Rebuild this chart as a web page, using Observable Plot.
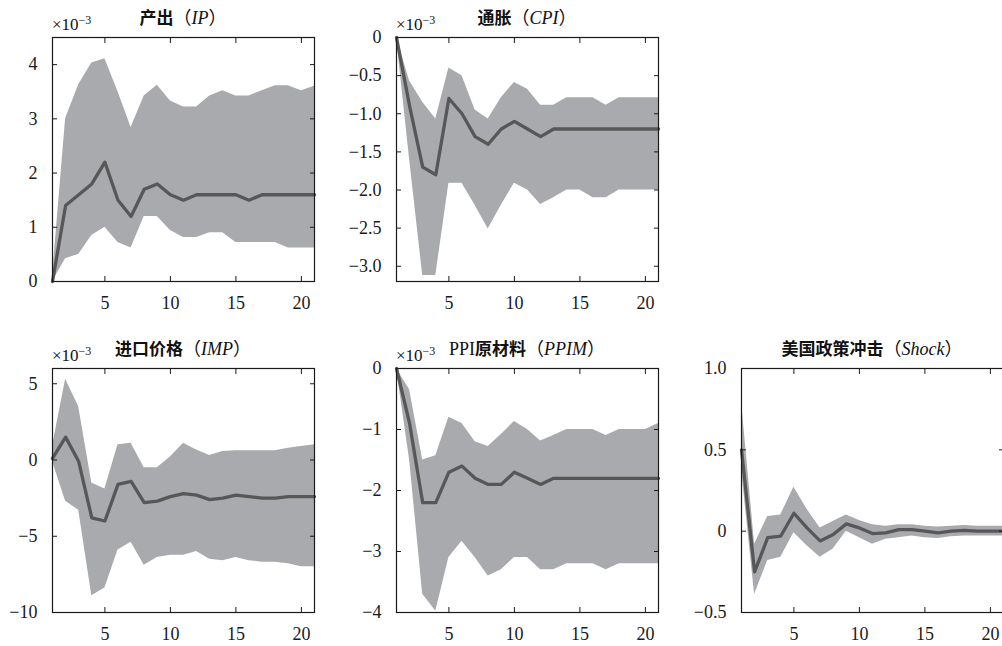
<!DOCTYPE html>
<html>
<head>
<meta charset="utf-8">
<script src="https://cdn.jsdelivr.net/npm/d3@7"></script>
<script src="https://cdn.jsdelivr.net/npm/@observablehq/plot@0.6"></script>
<style>
  html, body { margin: 0; padding: 0; background: #fff; }
  #wrap { position: relative; width: 1002px; height: 646px; overflow: hidden; background: #fff; }
  .panel { position: absolute; }
  .title { position: absolute; text-align: center; height: 24px; line-height: 24px; font-size: 18px;
           font-family: "Liberation Serif", "Noto Sans CJK SC", serif; color: #111; white-space: nowrap; }
  .title b { font-family: "Noto Sans CJK SC", sans-serif; font-weight: 700; font-size: 17px; }
  .title i { font-style: italic; }
  .scale { position: absolute; font-family: "Liberation Serif", serif; font-size: 17px; line-height: 17px; color: #111; }
  .scale sup { font-size: 12px; vertical-align: 6px; line-height: 0; }
</style>
</head>
<body>
<div id="wrap"></div>
<script>
// ---- data ----
const periods = [1,2,3,4,5,6,7,8,9,10,11,12,13,14,15,16,17,18,19,20,21];
const xTicks = [5, 10, 15, 20];

// 产出 (IP), ×10^-3
const ipMed = [0, 1.4, 1.6, 1.8, 2.2, 1.5, 1.2, 1.7, 1.8, 1.6, 1.5, 1.6, 1.6, 1.6, 1.6, 1.5, 1.6, 1.6, 1.6, 1.6, 1.6];
const ipHi  = [0.1, 3.0, 3.63, 4.03, 4.11, 3.5, 2.84, 3.42, 3.62, 3.33, 3.22, 3.22, 3.42, 3.52, 3.42, 3.42, 3.52, 3.61, 3.61, 3.52, 3.6];
const ipLo  = [0, 0.42, 0.5, 0.85, 1.0, 0.72, 0.62, 1.2, 1.2, 0.94, 0.81, 0.81, 0.9, 0.9, 0.72, 0.72, 0.72, 0.72, 0.62, 0.62, 0.62];
const ipTicks = [0, 1, 2, 3, 4];

// 通胀 (CPI), ×10^-3
const cpiMed = [0, -0.9, -1.7, -1.8, -0.8, -1.0, -1.3, -1.4, -1.2, -1.1, -1.2, -1.3, -1.2, -1.2, -1.2, -1.2, -1.2, -1.2, -1.2, -1.2, -1.2];
const cpiHi  = [0, -0.57, -0.85, -1.07, -0.4, -0.5, -0.95, -1.07, -0.79, -0.59, -0.68, -0.89, -0.89, -0.79, -0.79, -0.79, -0.89, -0.79, -0.79, -0.79, -0.79];
const cpiLo  = [0, -1.6, -3.12, -3.12, -1.91, -1.91, -2.2, -2.51, -2.2, -1.91, -2.0, -2.19, -2.1, -2.0, -2.0, -2.1, -2.1, -2.0, -2.0, -2.0, -2.0];
const cpiTicks = [0, -0.5, -1.0, -1.5, -2.0, -2.5, -3.0];

// 进口价格 (IMP), ×10^-3
const impMed = [0.1, 1.5, -0.1, -3.8, -4.0, -1.6, -1.4, -2.8, -2.7, -2.4, -2.2, -2.3, -2.6, -2.5, -2.3, -2.4, -2.5, -2.5, -2.4, -2.4, -2.4];
const impHi  = [0.9, 5.3, 3.5, -1.5, -1.9, 1.0, 1.1, -0.5, -0.5, 0.2, 1.1, 0.66, 0.3, 0.55, 0.6, 0.6, 0.6, 0.6, 0.77, 0.88, 1.0];
const impLo  = [-0.1, -2.7, -3.3, -8.9, -8.4, -5.9, -5.4, -6.9, -6.4, -6.25, -6.25, -6.0, -6.5, -6.6, -6.4, -6.6, -6.7, -6.7, -6.8, -7.0, -7.0];
const impTicks = [5, 0, -5, -10];

// PPI原材料 (PPIM), ×10^-3
const ppimMed = [0, -0.9, -2.2, -2.2, -1.7, -1.6, -1.8, -1.9, -1.9, -1.7, -1.8, -1.9, -1.8, -1.8, -1.8, -1.8, -1.8, -1.8, -1.8, -1.8, -1.8];
const ppimHi  = [0, -0.35, -1.5, -1.43, -0.8, -0.9, -1.2, -1.28, -1.08, -0.87, -1.0, -1.19, -1.1, -1.0, -1.0, -1.0, -1.1, -1.0, -1.0, -1.0, -0.9];
const ppimLo  = [0, -1.5, -3.7, -3.98, -3.1, -2.83, -3.1, -3.4, -3.3, -3.1, -3.1, -3.3, -3.3, -3.2, -3.2, -3.2, -3.3, -3.2, -3.2, -3.2, -3.2];
const ppimTicks = [0, -1, -2, -3, -4];

// 美国政策冲击 (Shock)
const shockMed = [0.5, -0.25, -0.04, -0.03, 0.11, 0.02, -0.06, -0.02, 0.045, 0.02, -0.015, -0.01, 0.01, 0.01, 0, -0.01, 0, 0.005, 0, 0, 0];
const shockHi  = [0.8, -0.08, 0.09, 0.1, 0.27, 0.135, 0.02, 0.06, 0.1, 0.065, 0.04, 0.03, 0.04, 0.04, 0.03, 0.025, 0.03, 0.035, 0.03, 0.03, 0.03];
const shockLo  = [0.38, -0.39, -0.18, -0.16, -0.01, -0.09, -0.16, -0.11, 0.0, -0.04, -0.08, -0.05, -0.04, -0.03, -0.04, -0.045, -0.035, -0.03, -0.03, -0.03, -0.03];
const shockTicks = [1.0, 0.5, 0, -0.5];

// ---- drawing ----
const BAND = "#a9aaad";
const LINE = "#575758";
const minus = s => s.replace("-", "\u2212");
const fmtInt = d => minus(String(d));
const fmtOne = d => d === 0 ? "0" : minus(d.toFixed(1));

const panels = [
  {left: 0,   top: 27,  ydom: [0, 4.5],   ticks: ipTicks,    fmt: fmtInt, med: ipMed,    hi: ipHi,    lo: ipLo,
   title: '<b>产出</b>（<i>IP</i>）', scale: true},
  {left: 344, top: 27,  ydom: [-3.2, 0],  ticks: cpiTicks,   fmt: fmtOne, med: cpiMed,   hi: cpiHi,   lo: cpiLo,
   title: '<b>通胀</b>（<i>CPI</i>）', scale: true},
  {left: 0,   top: 358, ydom: [-10, 6],   ticks: impTicks,   fmt: fmtInt, med: impMed,   hi: impHi,   lo: impLo,
   title: '<b>进口价格</b>（<i>IMP</i>）', scale: true},
  {left: 344, top: 358, ydom: [-4, 0],    ticks: ppimTicks,  fmt: fmtInt, med: ppimMed,  hi: ppimHi,  lo: ppimLo,
   title: 'PPI<b>原材料</b>（<i>PPIM</i>）', scale: true},
  {left: 689, top: 358, ydom: [-0.5, 1.0], ticks: shockTicks, fmt: fmtOne, med: shockMed, hi: shockHi, lo: shockLo,
   title: '<b>美国政策冲击</b>（<i>Shock</i>）', scale: false}
];

const ML = 52, MR = 12, MT = 10, MB = 36, IW = 262, IH = 244;
const wrap = document.getElementById("wrap");

for (const p of panels) {
  const rows = periods.map((x, i) => ({x, m: p.med[i], hi: p.hi[i], lo: p.lo[i]}));
  const svg = Plot.plot({
    width: ML + IW + MR,
    height: MT + IH + MB,
    marginLeft: ML, marginRight: MR, marginTop: MT, marginBottom: MB,
    style: {fontFamily: "'Liberation Serif', serif", fontSize: "18px", color: "#1a1a1a", background: "transparent"},
    x: {domain: [1, 21]},
    y: {domain: p.ydom},
    marks: [
      Plot.areaY(rows, {x: "x", y1: "lo", y2: "hi", fill: BAND}),
      Plot.lineY(rows, {x: "x", y: "m", stroke: LINE, strokeWidth: 3.3}),
      Plot.frame({stroke: "#1a1a1a", strokeWidth: 1.2}),
      Plot.axisX({anchor: "bottom", ticks: xTicks, tickSize: -5, tickPadding: 20, label: null}),
      Plot.axisX({anchor: "top", ticks: xTicks, tickSize: -5, fill: "none", label: null}),
      Plot.axisY({anchor: "left", ticks: p.ticks, tickFormat: p.fmt, tickSize: -5, tickPadding: 20, label: null}),
      Plot.axisY({anchor: "right", ticks: p.ticks, tickSize: -5, fill: "none", label: null})
    ]
  });
  svg.classList.add("panel");
  svg.style.left = p.left + "px";
  svg.style.top = p.top + "px";
  wrap.appendChild(svg);

  const fl = p.left + ML, ft = p.top + MT;
  const t = document.createElement("div");
  t.className = "title";
  t.innerHTML = p.title;
  t.style.left = fl + "px";
  t.style.width = IW + "px";
  t.style.top = (ft - 32) + "px";
  wrap.appendChild(t);

  if (p.scale) {
    const s = document.createElement("div");
    s.className = "scale";
    s.innerHTML = "×10<sup>−3</sup>";
    s.style.left = fl + "px";
    s.style.top = (ft - 21) + "px";
    wrap.appendChild(s);
  }
}
</script>
</body>
</html>
